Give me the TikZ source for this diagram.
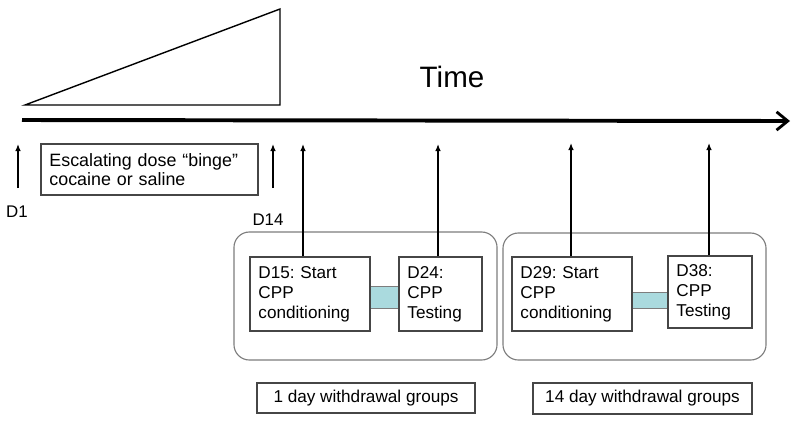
\documentclass[tikz,border=0pt]{standalone}
\usepackage{fontspec}
\setmainfont{Liberation Sans}
\usetikzlibrary{arrows.meta}
\frenchspacing
\definecolor{boxgray}{RGB}{70,70,70}
\definecolor{groupgray}{RGB}{125,125,125}
\definecolor{linkcyan}{RGB}{170,218,222}
\tikzstyle{block} = [rectangle, draw=boxgray, line width=0.8pt, align=left, inner xsep=6pt, inner ysep=2pt, font=\fontsize{12.2}{14.2}\selectfont]
\tikzstyle{group} = [rectangle, draw=groupgray, line width=0.8pt, rounded corners=11pt]
\tikzstyle{link} = [rectangle, draw=groupgray, line width=0.6pt, fill=linkcyan, inner sep=0pt]
\tikzstyle{daylabel} = [font=\fontsize{12}{14}\selectfont, inner sep=0pt]
\tikzstyle{pointer} = [->, line width=0.9pt]

\begin{document}
\begin{tikzpicture}[x=0.025cm, y=-0.025cm, >={Latex[length=5pt, width=4pt]}]
        \useasboundingbox (0,0) rectangle (800,423);

        % dose ramp and time axis
        \draw[line width=1pt] (25,105) -- (280,9) -- (280,105) -- cycle;
        \coordinate (start) at (22,120);
        \coordinate (finish) at (790,121);
        \draw[line width=2.8pt, -{Straight Barb[length=8pt, width=13pt, line width=2pt]}] (start) -- (finish);
        \node[font=\fontsize{21}{24}\selectfont, inner sep=0pt] (time) at (452,77) {Time};

        % binge period
        \node[block, minimum width=5.425cm, minimum height=1.275cm, text width=5.425cm-12pt, font=\fontsize{12.7}{13.5}\selectfont] (binge) at (149.5,169.5) {Escalating dose “binge”\\cocaine or saline};
        \node[daylabel] (d1) at (17,212) {D1};
        \node[daylabel] (d14) at (268,220) {D14};
        \coordinate (d1foot) at (18,188);
        \coordinate (d1tip) at (18,144);
        \coordinate (d14foot) at (273,188);
        \coordinate (d14tip) at (273,144);
        \draw[pointer] (d1foot) -- (d1tip);
        \draw[pointer] (d14foot) -- (d14tip);

        % withdrawal groups
        \node[group, minimum width=6.575cm, minimum height=3.2cm] (early) at (365.5,296) {};
        \node[group, minimum width=6.575cm, minimum height=3.175cm] (late) at (634.5,296.5) {};

        \node[link, minimum width=0.725cm, minimum height=0.55cm] (link1) at (384.5,297) {};
        \node[link, minimum width=0.9cm, minimum height=0.4cm] (link2) at (650,300) {};

        \node[block, fill=white, minimum width=3cm, minimum height=1.85cm, text width=3cm-12pt] (d15) at (310,294) {D15: Start\\CPP\\conditioning};
        \node[block, fill=white, minimum width=2.075cm, minimum height=1.85cm, text width=2.075cm-12pt] (d24) at (440.5,294) {D24:\\CPP\\Testing};
        \node[block, fill=white, minimum width=3cm, minimum height=1.85cm, text width=3cm-12pt] (d29) at (572,294) {D29: Start\\CPP\\conditioning};
        \node[block, fill=white, minimum width=2.1cm, minimum height=1.8cm, text width=2.1cm-12pt] (d38) at (710,292) {D38:\\CPP\\Testing};

        \coordinate (t15) at (303,144);
        \coordinate (t24) at (438,144);
        \coordinate (t29) at (571,143);
        \coordinate (t38) at (709,143);
        \draw[pointer] (t15 |- d15.north) -- (t15);
        \draw[pointer] (t24 |- d24.north) -- (t24);
        \draw[pointer] (t29 |- d29.north) -- (t29);
        \draw[pointer] (t38 |- d38.north) -- (t38);

        \node[block, minimum width=5.45cm, minimum height=0.75cm] (oneday) at (366,398) {1 day withdrawal groups};
        \node[block, minimum width=5.475cm, minimum height=0.775cm] (fourteenday) at (642.5,398.5) {14 day withdrawal groups};
    \end{tikzpicture}
\end{document}
